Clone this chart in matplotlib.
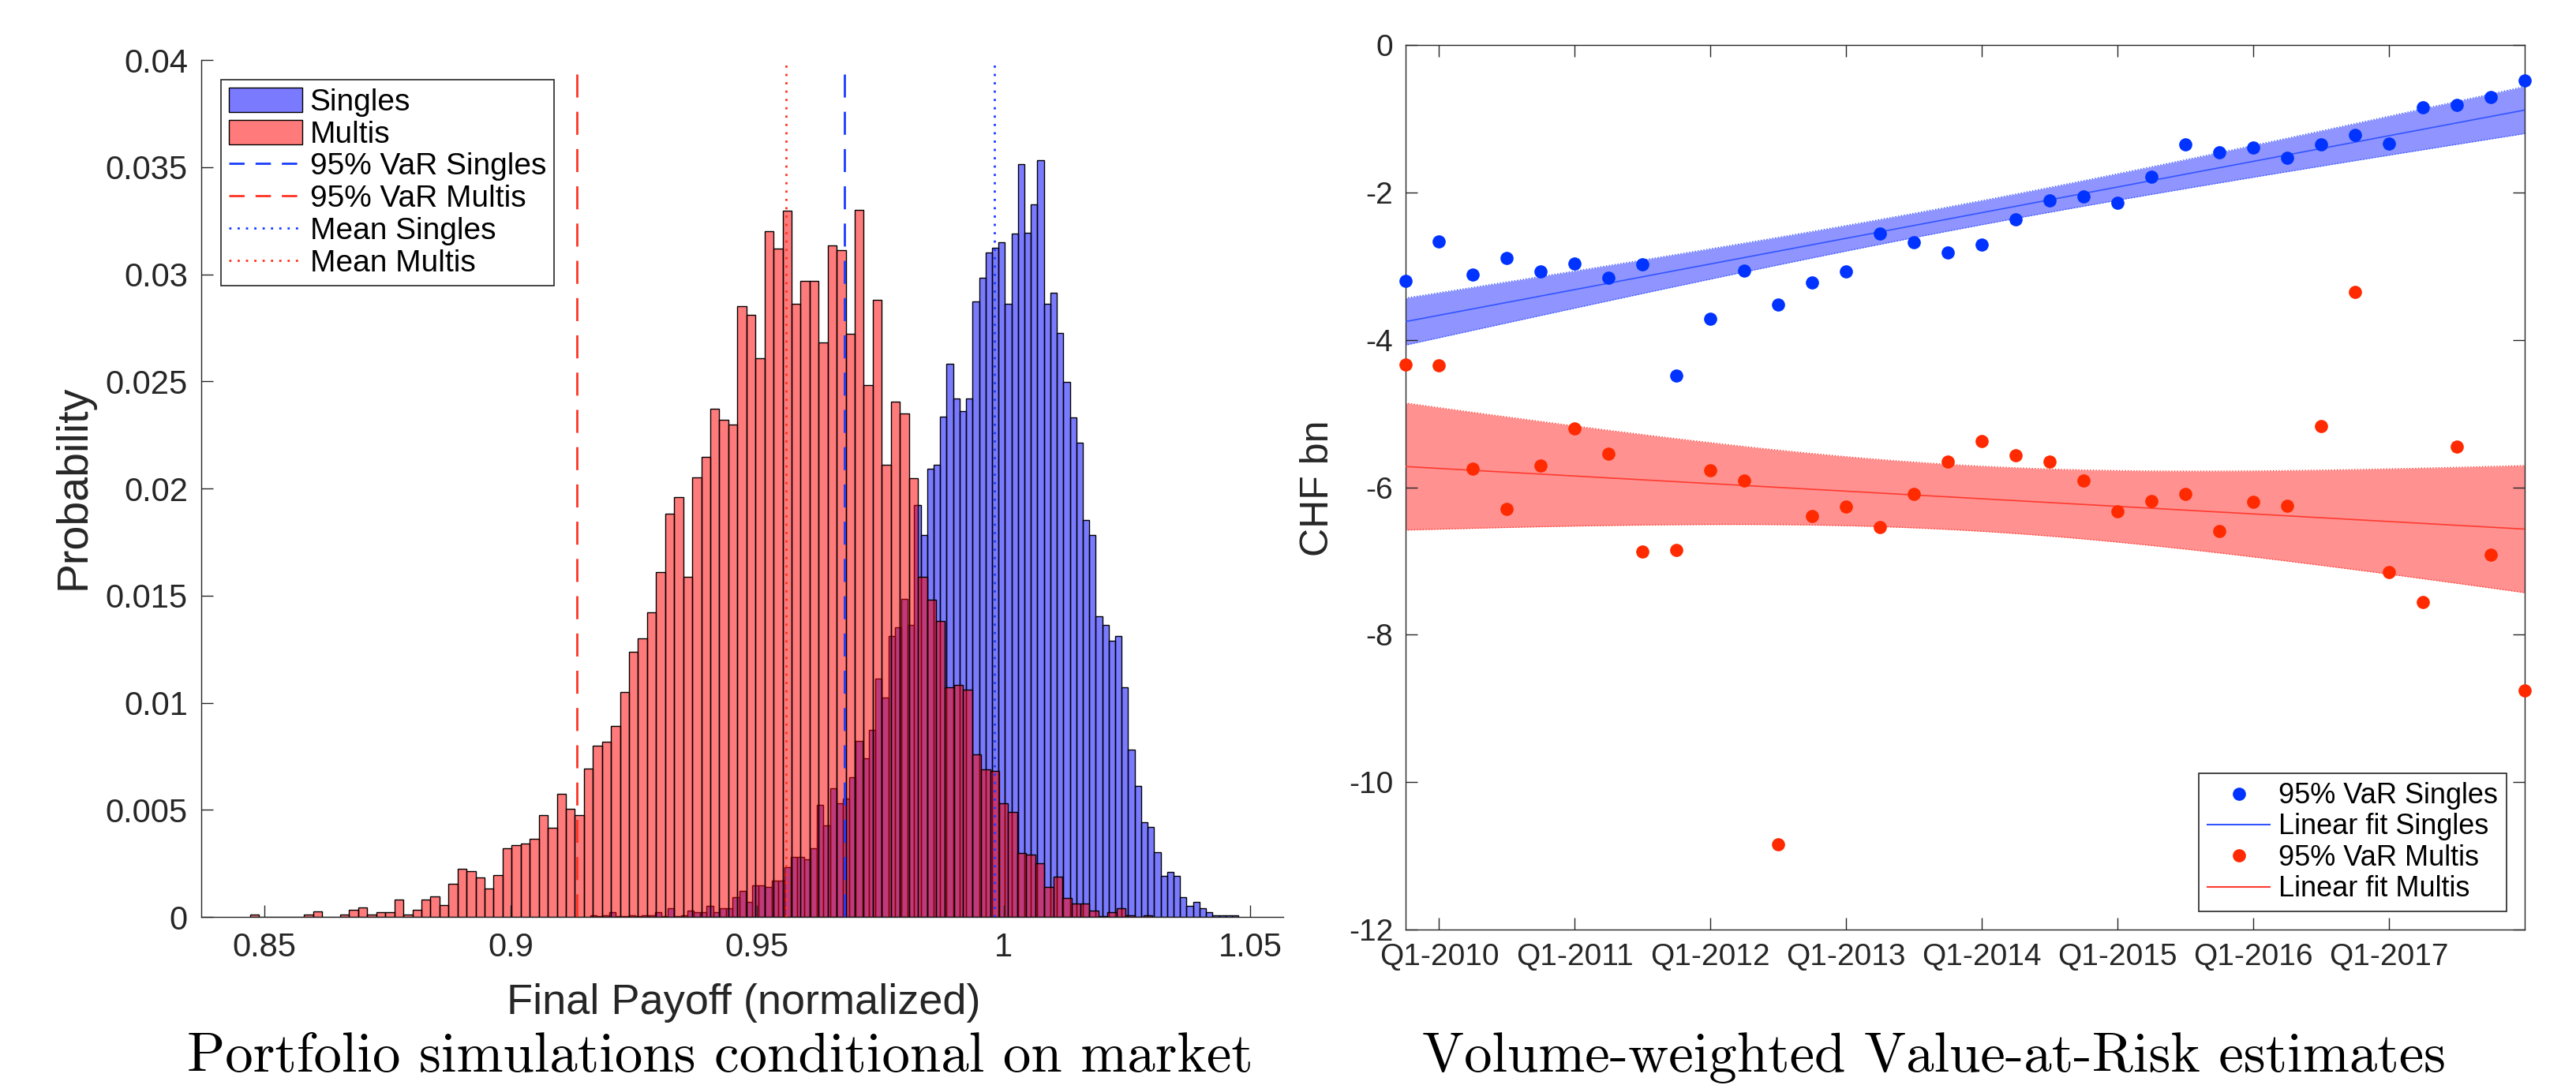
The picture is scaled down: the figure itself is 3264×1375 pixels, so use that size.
"""Portfolio payoff histograms and quarterly VaR estimates, side by side."""

import numpy as np
import matplotlib
matplotlib.use('Agg')
import matplotlib.pyplot as plt
from matplotlib.patches import Patch
from matplotlib.lines import Line2D

plt.rcParams['font.family'] = ['Liberation Sans', 'DejaVu Sans']
plt.rcParams['axes.unicode_minus'] = False

#########################################
### Data

# histogram of final payoff, probability per bin (100 bins each)
singles_start = 0.916095
singles_width = 0.0013149
singles_prob = [
    0.000086, 0.00004, 0.000086, 0.000216, 0.00004, 0.00004, 0.000086, 0.00004, 0.000086, 0.000086,
    0.000216, 0.00004, 0.000411, 0.00004, 0.000086, 0.000281, 0.000216, 0.000216, 0.000519, 0.000216,
    0.000411, 0.000411, 0.000929, 0.001210, 0.000692, 0.001491, 0.001491, 0.001383, 0.001708, 0.001708,
    0.002313, 0.002788, 0.002788, 0.002702, 0.003199, 0.005220, 0.004290, 0.006004, 0.005302, 0.005511,
    0.006534, 0.008208, 0.007418, 0.008720, 0.011115, 0.010231, 0.013115, 0.013510, 0.014835, 0.013626,
    0.019230, 0.017840, 0.020928, 0.021114, 0.023346, 0.025834, 0.024206, 0.023625, 0.024206, 0.028717,
    0.029834, 0.030996, 0.031229, 0.031508, 0.028624, 0.031903, 0.035125, 0.031925, 0.033246, 0.035308,
    0.028625, 0.029144, 0.027245, 0.024958, 0.023330, 0.022129, 0.018530, 0.017838, 0.014033, 0.013615,
    0.012903, 0.013124, 0.010718, 0.007820, 0.006114, 0.004407, 0.004211, 0.003020, 0.001903, 0.002099,
    0.001903, 0.000921, 0.000528, 0.000700, 0.000417, 0.000209, 0.000086, 0.000086, 0.000086, 0.000086,
]

multis_start = 0.84713
multis_width = 0.0018306
multis_prob = [
    0.000123, 0.0, 0.0, 0.0, 0.0, 0.0, 0.000123, 0.000246, 0.0, 0.0,
    0.000123, 0.000331, 0.000442, 0.000123, 0.000233, 0.000233, 0.000823, 0.000123, 0.000331, 0.000823,
    0.000945, 0.000552, 0.001535, 0.002234, 0.002124, 0.001829, 0.001338, 0.001952, 0.003217, 0.003339,
    0.003438, 0.003646, 0.004751, 0.004150, 0.005746, 0.005034, 0.004751, 0.006916, 0.008008, 0.008192,
    0.008905, 0.010483, 0.012385, 0.012991, 0.014201, 0.016103, 0.018805, 0.019583, 0.015887, 0.020513,
    0.021485, 0.023712, 0.023193, 0.022998, 0.028510, 0.028100, 0.026089, 0.032012, 0.031212, 0.032984,
    0.028618, 0.029699, 0.029699, 0.026807, 0.031332, 0.031136, 0.027229, 0.033019, 0.024834, 0.028810,
    0.021114, 0.024044, 0.023509, 0.020486, 0.015882, 0.014812, 0.013812, 0.010720, 0.010813, 0.010603,
    0.007604, 0.006906, 0.006813, 0.005302, 0.004883, 0.003000, 0.002907, 0.002511, 0.001400, 0.001880,
    0.000896, 0.000614, 0.000614, 0.000307, 0.00004, 0.000209, 0.000405, 0.000086, 0.0, 0.000086,
]

var_singles = 0.9677
var_multis = 0.9134
mean_singles = 0.9981
mean_multis = 0.9559
dash_top = 0.0395
dot_top = 0.0398

# quarterly VaR estimates, Q4-2009 .. Q1-2018 (CHF bn)
quarters = np.arange(1, 35)
q_var_singles = [
    -3.20, -2.66, -3.11, -2.89, -3.07, -2.97, -3.16, -2.98, -4.49, -3.71,
    -3.06, -3.52, -3.22, -3.07, -2.56, -2.68, -2.81, -2.71, -2.37, -2.11,
    -2.06, -2.14, -1.79, -1.35, -1.45, -1.39, -1.53, -1.35, -1.22, -1.34,
    -0.84, -0.81, -0.71, -0.48,
]
q_var_multis = [
    -4.33, -4.35, -5.75, -6.29, -5.71, -5.20, -5.55, -6.87, -6.85, -5.77,
    -5.91, -10.84, -6.39, -6.26, -6.54, -6.09, -5.65, -5.37, -5.57, -5.65,
    -5.91, -6.33, -6.19, -6.09, -6.59, -6.20, -6.25, -5.17, -3.35, -7.15,
    -7.56, -5.45, -6.92, -8.76,
]
q_ticks = [2, 6, 10, 14, 18, 22, 26, 30]
q_labels = ['Q1-2010', 'Q1-2011', 'Q1-2012', 'Q1-2013',
            'Q1-2014', 'Q1-2015', 'Q1-2016', 'Q1-2017']
t_crit = 2.0369  # t(0.975, 32)

#########################################
### Figure

ink = '#262626'
blue_face = (0.0, 0.0, 1.0, 0.52)
red_face = (1.0, 0.0, 0.0, 0.52)

fig = plt.figure(figsize=(32.64, 13.75), dpi=100)

# --- left: histograms
ax1 = fig.add_axes([0.078, 0.1549, 0.4202, 0.7898])
edges_s = singles_start + singles_width * np.arange(len(singles_prob))
edges_m = multis_start + multis_width * np.arange(len(multis_prob))
ax1.bar(edges_s, singles_prob, width=singles_width, align='edge',
        color=blue_face, edgecolor='black', linewidth=1.0)
ax1.bar(edges_m, multis_prob, width=multis_width, align='edge',
        color=red_face, edgecolor='black', linewidth=1.0)

dash = (0, (10.5, 6.5))
dots = (0, (1, 2.8))
ax1.axvline(var_singles, ymax=dash_top / 0.04, color='#1a3cff', lw=2, ls=dash)
ax1.axvline(var_multis, ymax=dash_top / 0.04, color='#ff3322', lw=2, ls=dash)
ax1.axvline(mean_singles, ymax=dot_top / 0.04, color='#1a3cff', lw=2, ls=dots)
ax1.axvline(mean_multis, ymax=dot_top / 0.04, color='#ff3322', lw=2, ls=dots)

ax1.set_xlim(0.8372, 1.0567)
ax1.set_ylim(0, 0.04)
ax1.set_xticks([0.85, 0.9, 0.95, 1.0, 1.05], ['0.85', '0.9', '0.95', '1', '1.05'])
ax1.set_yticks(np.arange(0, 0.0401, 0.005),
               ['0', '0.005', '0.01', '0.015', '0.02', '0.025', '0.03', '0.035', '0.04'])
for side in ['top', 'right']:
    ax1.spines[side].set_visible(False)
for side in ['left', 'bottom']:
    ax1.spines[side].set_color(ink)
    ax1.spines[side].set_linewidth(1.0)
ax1.tick_params(direction='in', length=11, width=1, color=ink, labelcolor=ink, labelsize=30)
ax1.tick_params(axis='y', pad=12)
ax1.tick_params(axis='x', pad=14)

handles1 = [
    Patch(facecolor=blue_face, edgecolor='black', linewidth=1.0, label='Singles'),
    Patch(facecolor=red_face, edgecolor='black', linewidth=1.0, label='Multis'),
    Line2D([], [], color='#1a3cff', lw=2, ls=(0, (7, 5)), label='95% VaR Singles'),
    Line2D([], [], color='#ff3322', lw=2, ls=(0, (7, 5)), label='95% VaR Multis'),
    Line2D([], [], color='#1a3cff', lw=2, ls=dots, label='Mean Singles'),
    Line2D([], [], color='#ff3322', lw=2, ls=dots, label='Mean Multis'),
]
leg1 = ax1.legend(handles=handles1, loc='upper left', bbox_to_anchor=(0.0185, 0.977),
                  borderaxespad=0, fontsize=28, fancybox=False, framealpha=1,
                  edgecolor=ink, handlelength=2.4, handleheight=0.85,
                  handletextpad=0.25, labelspacing=0.1, borderpad=0.25)
leg1.get_frame().set_linewidth(1.2)

fig.text(93 / 3264, 0.5513, 'Probability', rotation=90, ha='center', va='center',
         fontsize=40, color=ink)
fig.text(942 / 3264, 1 - 1246 / 1375, 'Final Payoff (normalized)', ha='center', va='top',
         fontsize=39, color=ink)

# --- right: VaR estimates with linear fits
ax2 = fig.add_axes([0.5455, 0.1433, 0.4345, 0.8152])

def fit_band(x, y):
    x = np.asarray(x, float)
    y = np.asarray(y, float)
    n = len(x)
    p = np.polyfit(x, y, 1)
    s = np.sqrt(np.sum((y - np.polyval(p, x)) ** 2) / (n - 2))
    xx = np.linspace(x.min(), x.max(), 300)
    half = t_crit * s * np.sqrt(1 / n + (xx - x.mean()) ** 2 / np.sum((x - x.mean()) ** 2))
    return xx, np.polyval(p, xx), half

series = [
    (q_var_singles, '#0033ff', '#8f94ff', '#3355ff', 'Singles'),
    (q_var_multis, '#ff2a00', '#ff9191', '#ff3b2f', 'Multis'),
]
handles2 = []
for vals, dot_c, band_c, line_c, name in series:
    xx, yy, half = fit_band(quarters, vals)
    ax2.fill_between(xx, yy - half, yy + half, color=band_c, lw=0, zorder=1)
    ax2.plot(xx, yy + half, ls=':', lw=1, color=line_c, zorder=2)
    ax2.plot(xx, yy - half, ls=':', lw=1, color=line_c, zorder=2)
    ax2.plot(xx, yy, '-', lw=1.2, color=line_c, zorder=3)
    ax2.plot(quarters, vals, 'o', ms=12, color=dot_c, mec='none', clip_on=False, zorder=5)
    handles2.append(Line2D([], [], marker='o', ms=12, color=dot_c, mec='none', ls='none',
                           label='95% VaR ' + name))
    handles2.append(Line2D([], [], color=line_c, lw=1.5, label='Linear fit ' + name))

ax2.set_xlim(1, 34)
ax2.set_ylim(-12, 0)
ax2.set_xticks(q_ticks, q_labels)
ax2.set_yticks(np.arange(-12, 1, 2), [str(v) for v in range(-12, 1, 2)])
for side in ax2.spines.values():
    side.set_color(ink)
    side.set_linewidth(1.0)
ax2.tick_params(direction='in', length=11, width=1, color=ink, labelcolor=ink, labelsize=28,
                top=True, right=True)
ax2.tick_params(axis='y', pad=11)
ax2.tick_params(axis='x', pad=12)

leg2 = ax2.legend(handles=handles2, loc='lower right', bbox_to_anchor=(0.984, 0.0205),
                  borderaxespad=0, fontsize=26, fancybox=False, framealpha=1,
                  edgecolor=ink, handlelength=2.2, handletextpad=0.3,
                  labelspacing=0.12, borderpad=0.3)
leg2.get_frame().set_linewidth(1.2)

fig.text(1670 / 3264, 0.5502, 'CHF bn', rotation=90, ha='center', va='center',
         fontsize=36, color=ink)

# --- captions
fig.text(912 / 3264, 0.0125, 'Portfolio simulations conditional on market',
         ha='center', va='baseline', fontsize=51, family=['cmr10', 'DejaVu Serif'])
fig.text(2451 / 3264, 0.0125, 'Volume-weighted Value-at-Risk estimates',
         ha='center', va='baseline', fontsize=51, family=['cmr10', 'DejaVu Serif'])

fig.savefig('out.png', dpi=100)
